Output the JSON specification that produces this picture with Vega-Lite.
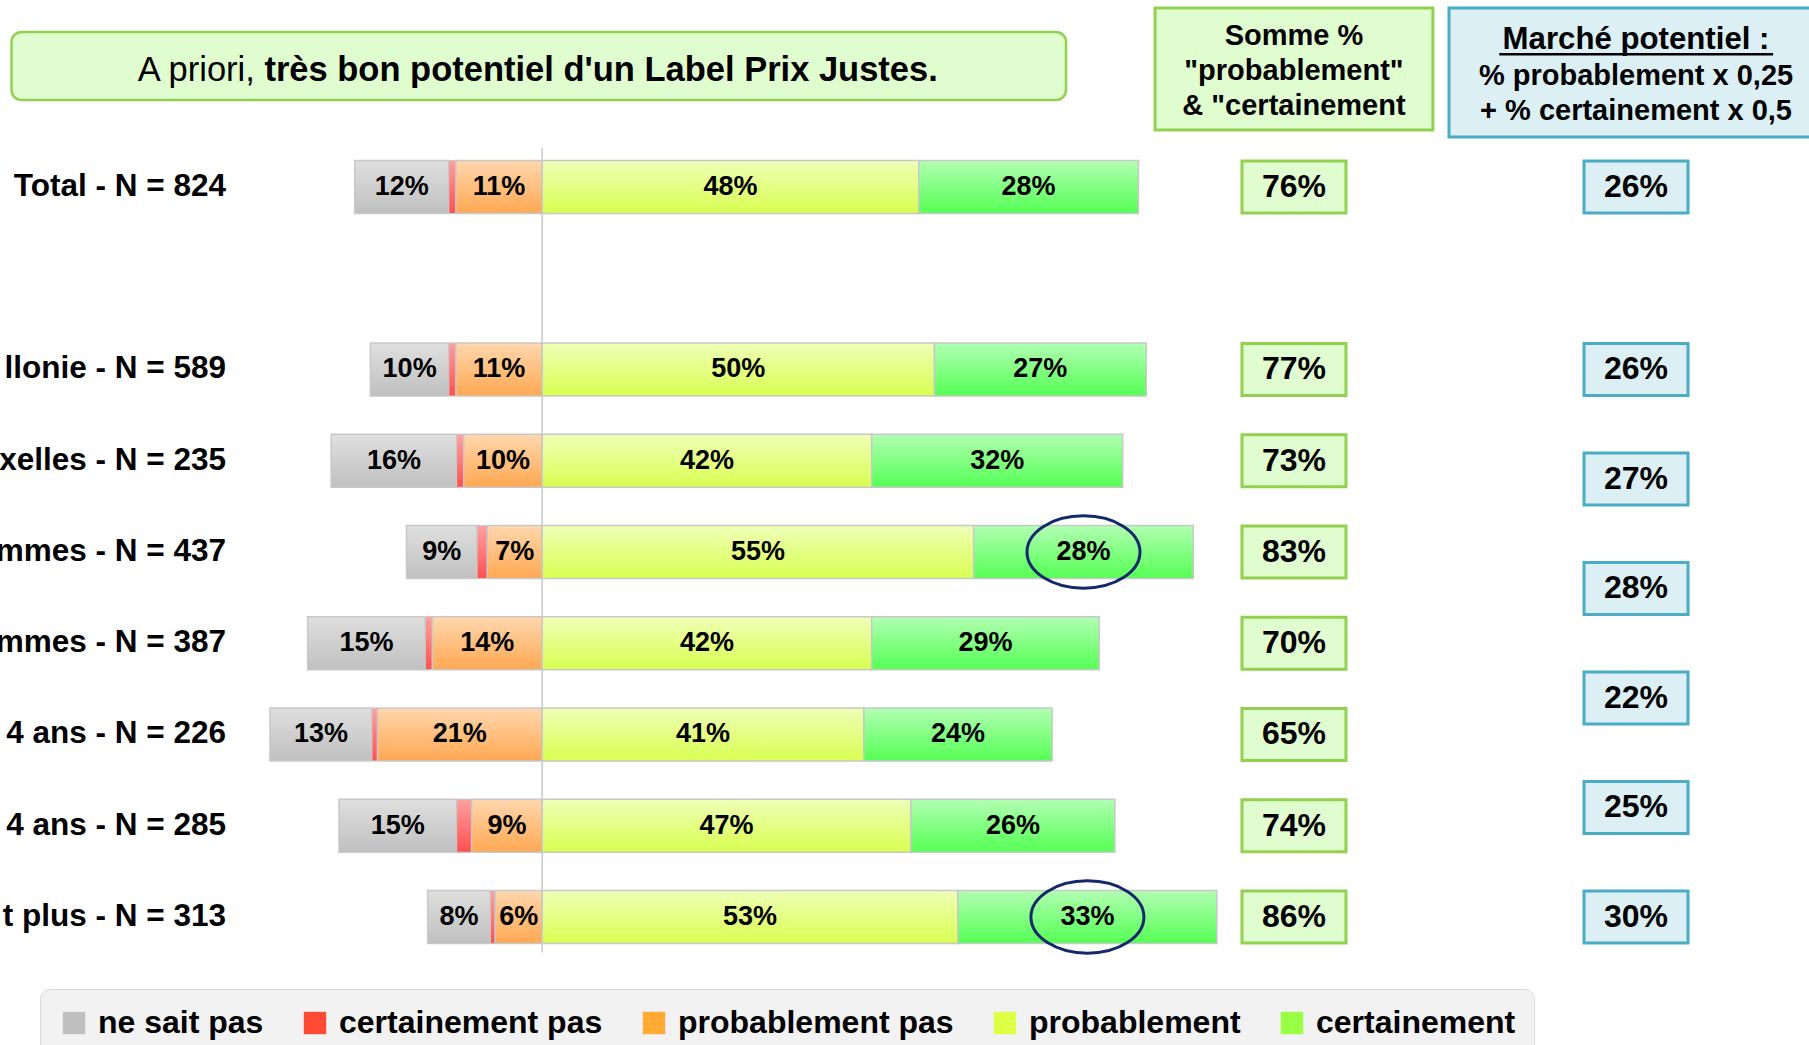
{
  "$schema": "https://vega.github.io/schema/vega-lite/v6.json",
  "width": 1809,
  "height": 1045,
  "autosize": "none",
  "padding": 0,
  "background": "white",
  "config": {"view": {"stroke": null}, "font": "Liberation Sans", "scale": {"continuousPadding": 0}},
  "datasets": {
    "seg": [
      {"row": 0, "cat": "ne sait pas", "k": 3, "pct": 12},
      {"row": 0, "cat": "certainement pas", "k": 2, "pct": 0.9},
      {"row": 0, "cat": "probablement pas", "k": 1, "pct": 11},
      {"row": 0, "cat": "probablement", "k": 4, "pct": 48},
      {"row": 0, "cat": "certainement", "k": 5, "pct": 28},
      {"row": 2, "cat": "ne sait pas", "k": 3, "pct": 10},
      {"row": 2, "cat": "certainement pas", "k": 2, "pct": 0.9},
      {"row": 2, "cat": "probablement pas", "k": 1, "pct": 11},
      {"row": 2, "cat": "probablement", "k": 4, "pct": 50},
      {"row": 2, "cat": "certainement", "k": 5, "pct": 27},
      {"row": 3, "cat": "ne sait pas", "k": 3, "pct": 16},
      {"row": 3, "cat": "certainement pas", "k": 2, "pct": 0.9},
      {"row": 3, "cat": "probablement pas", "k": 1, "pct": 10},
      {"row": 3, "cat": "probablement", "k": 4, "pct": 42},
      {"row": 3, "cat": "certainement", "k": 5, "pct": 32},
      {"row": 4, "cat": "ne sait pas", "k": 3, "pct": 9},
      {"row": 4, "cat": "certainement pas", "k": 2, "pct": 1.3},
      {"row": 4, "cat": "probablement pas", "k": 1, "pct": 7},
      {"row": 4, "cat": "probablement", "k": 4, "pct": 55},
      {"row": 4, "cat": "certainement", "k": 5, "pct": 28},
      {"row": 5, "cat": "ne sait pas", "k": 3, "pct": 15},
      {"row": 5, "cat": "certainement pas", "k": 2, "pct": 0.9},
      {"row": 5, "cat": "probablement pas", "k": 1, "pct": 14},
      {"row": 5, "cat": "probablement", "k": 4, "pct": 42},
      {"row": 5, "cat": "certainement", "k": 5, "pct": 29},
      {"row": 6, "cat": "ne sait pas", "k": 3, "pct": 13},
      {"row": 6, "cat": "certainement pas", "k": 2, "pct": 0.7},
      {"row": 6, "cat": "probablement pas", "k": 1, "pct": 21},
      {"row": 6, "cat": "probablement", "k": 4, "pct": 41},
      {"row": 6, "cat": "certainement", "k": 5, "pct": 24},
      {"row": 7, "cat": "ne sait pas", "k": 3, "pct": 15},
      {"row": 7, "cat": "certainement pas", "k": 2, "pct": 1.9},
      {"row": 7, "cat": "probablement pas", "k": 1, "pct": 9},
      {"row": 7, "cat": "probablement", "k": 4, "pct": 47},
      {"row": 7, "cat": "certainement", "k": 5, "pct": 26},
      {"row": 8, "cat": "ne sait pas", "k": 3, "pct": 8},
      {"row": 8, "cat": "certainement pas", "k": 2, "pct": 0.6},
      {"row": 8, "cat": "probablement pas", "k": 1, "pct": 6},
      {"row": 8, "cat": "probablement", "k": 4, "pct": 53},
      {"row": 8, "cat": "certainement", "k": 5, "pct": 33}
    ],
    "rows": [
      {"row": 0, "label": "Total - N = 824", "somme": 76},
      {"row": 2, "label": "llonie - N = 589", "somme": 77},
      {"row": 3, "label": "xelles - N = 235", "somme": 73},
      {"row": 4, "label": "mmes - N = 437", "somme": 83},
      {"row": 5, "label": "mmes - N = 387", "somme": 70},
      {"row": 6, "label": "4 ans - N = 226", "somme": 65},
      {"row": 7, "label": "4 ans - N = 285", "somme": 74},
      {"row": 8, "label": "t plus - N = 313", "somme": 86}
    ],
    "marche": [
      {"pos": 0, "v": 26},
      {"pos": 2, "v": 26},
      {"pos": 3.2, "v": 27},
      {"pos": 4.4, "v": 28},
      {"pos": 5.6, "v": 22},
      {"pos": 6.8, "v": 25},
      {"pos": 8, "v": 30}
    ],
    "one": [{}]
  },
  "layer": [
    {
      "data": {"name": "one"},
      "mark": {"type": "rect", "fill": "#E0FDD0", "stroke": "#92D050", "strokeWidth": 2.5, "cornerRadius": 10},
      "encoding": {
        "x": {"datum": -67.65, "type": "quantitative", "scale": {"domain": [-69.115, 161.48], "nice": false, "zero": false, "padding": 0}, "axis": null},
        "x2": {"datum": 66.77},
        "y": {"datum": -1.699, "type": "quantitative", "scale": {"domain": [-2.049, 9.403], "nice": false, "zero": false, "reverse": true, "padding": 0}, "axis": null},
        "y2": {"datum": -0.953}
      }
    },
    {
      "data": {"name": "one"},
      "mark": {"type": "text", "text": "A priori,", "align": "right", "baseline": "middle", "dx": -9.6, "fontSize": 34.5, "fontWeight": "normal", "font": "Liberation Sans", "color": "#000"},
      "encoding": {
        "x": {"datum": -35.41, "type": "quantitative", "scale": {"domain": [-69.115, 161.48], "nice": false, "zero": false, "padding": 0}, "axis": null},
        "y": {"datum": -1.272, "type": "quantitative", "scale": {"domain": [-2.049, 9.403], "nice": false, "zero": false, "reverse": true, "padding": 0}, "axis": null}
      }
    },
    {
      "data": {"name": "one"},
      "mark": {"type": "text", "text": "très bon potentiel d'un Label Prix Justes.", "align": "left", "baseline": "middle", "fontSize": 34.5, "fontWeight": "bold", "font": "Liberation Sans", "color": "#000"},
      "encoding": {
        "x": {"datum": -35.41, "type": "quantitative", "scale": {"domain": [-69.115, 161.48], "nice": false, "zero": false, "padding": 0}, "axis": null},
        "y": {"datum": -1.272, "type": "quantitative", "scale": {"domain": [-2.049, 9.403], "nice": false, "zero": false, "reverse": true, "padding": 0}, "axis": null}
      }
    },
    {
      "data": {"name": "one"},
      "mark": {"type": "rect", "fill": "#E0FDD0", "stroke": "#92D050", "strokeWidth": 3},
      "encoding": {
        "x": {"datum": 78.12, "type": "quantitative", "scale": {"domain": [-69.115, 161.48], "nice": false, "zero": false, "padding": 0}, "axis": null},
        "x2": {"datum": 113.54},
        "y": {"datum": -1.962, "type": "quantitative", "scale": {"domain": [-2.049, 9.403], "nice": false, "zero": false, "reverse": true, "padding": 0}, "axis": null},
        "y2": {"datum": -0.625}
      }
    },
    {
      "data": {"name": "one"},
      "mark": {"type": "text", "text": ["Somme %", "\"probablement\"", "& \"certainement"], "lineHeight": 34.6, "align": "center", "baseline": "middle", "fontSize": 29, "fontWeight": "bold", "font": "Liberation Sans", "color": "#000"},
      "encoding": {
        "x": {"datum": 95.83, "type": "quantitative", "scale": {"domain": [-69.115, 161.48], "nice": false, "zero": false, "padding": 0}, "axis": null},
        "y": {"datum": -1.65, "type": "quantitative", "scale": {"domain": [-2.049, 9.403], "nice": false, "zero": false, "reverse": true, "padding": 0}, "axis": null}
      }
    },
    {
      "data": {"name": "one"},
      "mark": {"type": "rect", "fill": "#DBEFF4", "stroke": "#4BACC6", "strokeWidth": 3},
      "encoding": {
        "x": {"datum": 115.59, "type": "quantitative", "scale": {"domain": [-69.115, 161.48], "nice": false, "zero": false, "padding": 0}, "axis": null},
        "x2": {"datum": 162.87},
        "y": {"datum": -1.962, "type": "quantitative", "scale": {"domain": [-2.049, 9.403], "nice": false, "zero": false, "reverse": true, "padding": 0}, "axis": null},
        "y2": {"datum": -0.548}
      }
    },
    {
      "data": {"name": "one"},
      "mark": {"type": "text", "text": "Marché potentiel :", "align": "center", "baseline": "middle", "fontSize": 31.2, "fontWeight": "bold", "font": "Liberation Sans", "color": "#000"},
      "encoding": {
        "x": {"datum": 139.43, "type": "quantitative", "scale": {"domain": [-69.115, 161.48], "nice": false, "zero": false, "padding": 0}, "axis": null},
        "y": {"datum": -1.61, "type": "quantitative", "scale": {"domain": [-2.049, 9.403], "nice": false, "zero": false, "reverse": true, "padding": 0}, "axis": null}
      }
    },
    {
      "data": {"name": "one"},
      "mark": {"type": "rule", "color": "#000", "strokeWidth": 2.5},
      "encoding": {
        "x": {"datum": 122.0, "type": "quantitative", "scale": {"domain": [-69.115, 161.48], "nice": false, "zero": false, "padding": 0}, "axis": null},
        "x2": {"datum": 156.9},
        "y": {"datum": -1.455, "type": "quantitative", "scale": {"domain": [-2.049, 9.403], "nice": false, "zero": false, "reverse": true, "padding": 0}, "axis": null}
      }
    },
    {
      "data": {"name": "one"},
      "mark": {"type": "text", "text": ["% probablement x 0,25", "+ % certainement x 0,5"], "lineHeight": 35.8, "align": "center", "baseline": "middle", "fontSize": 29, "fontWeight": "bold", "font": "Liberation Sans", "color": "#000"},
      "encoding": {
        "x": {"datum": 139.43, "type": "quantitative", "scale": {"domain": [-69.115, 161.48], "nice": false, "zero": false, "padding": 0}, "axis": null},
        "y": {"datum": -1.22, "type": "quantitative", "scale": {"domain": [-2.049, 9.403], "nice": false, "zero": false, "reverse": true, "padding": 0}, "axis": null}
      }
    },
    {
      "data": {"name": "one"},
      "mark": {"type": "rule", "color": "#C8C8C8", "strokeWidth": 1.5},
      "encoding": {
        "x": {"datum": 0, "type": "quantitative", "scale": {"domain": [-69.115, 161.48], "nice": false, "zero": false, "padding": 0}, "axis": null},
        "y": {"datum": -0.43, "type": "quantitative", "scale": {"domain": [-2.049, 9.403], "nice": false, "zero": false, "reverse": true, "padding": 0}, "axis": null},
        "y2": {"datum": 8.39}
      }
    },
    {
      "data": {"name": "seg"},
      "transform": [
        {"calculate": "datum.k <= 3 ? -datum.pct : datum.pct", "as": "sv"},
        {"stack": "sv", "groupby": ["row"], "sort": [{"field": "k", "order": "ascending"}], "as": ["x0", "x1"]},
        {"calculate": "(datum.x0 + datum.x1) / 2", "as": "xm"},
        {"calculate": "format(datum.pct, '.0f') + '%'", "as": "lbl"}
      ],
      "layer": [
        {
          "mark": {"type": "bar", "orient": "horizontal", "size": 53},
          "encoding": {
            "x": {"field": "x0", "type": "quantitative", "scale": {"domain": [-69.115, 161.48], "nice": false, "zero": false, "padding": 0}, "axis": null},
            "x2": {"field": "x1"},
            "y": {"field": "row", "type": "quantitative", "scale": {"domain": [-2.049, 9.403], "nice": false, "zero": false, "reverse": true, "padding": 0}, "axis": null},
            "color": {
              "field": "cat", "type": "nominal",
              "scale": {"domain": ["ne sait pas", "certainement pas", "probablement pas", "probablement", "certainement"], "range": ["#C0C0C0", "#FF4B33", "#FFAA33", "#DDFF44", "#99FF44"]},
              "legend": {"title": null, "orient": "none", "legendX": 40, "legendY": 989, "direction": "horizontal", "fillColor": "#F2F2F2", "strokeColor": "#D9D9D9", "cornerRadius": 10, "padding": 18, "symbolType": "square", "symbolSize": 500, "symbolStrokeWidth": 0, "symbolOpacity": 1, "labelFont": "Liberation Sans", "labelFontSize": 32, "labelFontWeight": "bold", "labelColor": "#000", "labelLimit": 500, "labelOffset": 8, "columnPadding": 35}
            }
          }
        },
        {
          "transform": [{"filter": "datum.k === 3"}],
          "mark": {"type": "bar", "orient": "horizontal", "size": 53, "stroke": "#C8C8C8", "strokeWidth": 1.5, "fill": {"gradient": "linear", "x1": 0, "y1": 0, "x2": 0, "y2": 1, "stops": [{"offset": 0, "color": "#DFDFDF"}, {"offset": 1, "color": "#C0C0C0"}]}},
          "encoding": {
            "x": {"field": "x0", "type": "quantitative", "scale": {"domain": [-69.115, 161.48], "nice": false, "zero": false, "padding": 0}, "axis": null},
            "x2": {"field": "x1"},
            "y": {"field": "row", "type": "quantitative", "scale": {"domain": [-2.049, 9.403], "nice": false, "zero": false, "reverse": true, "padding": 0}, "axis": null}
          }
        },
        {
          "transform": [{"filter": "datum.k === 2"}],
          "mark": {"type": "bar", "orient": "horizontal", "size": 53, "stroke": "#C8C8C8", "strokeWidth": 1, "fill": {"gradient": "linear", "x1": 0, "y1": 0, "x2": 0, "y2": 1, "stops": [{"offset": 0, "color": "#FFA0A0"}, {"offset": 1, "color": "#FF5050"}]}},
          "encoding": {
            "x": {"field": "x0", "type": "quantitative", "scale": {"domain": [-69.115, 161.48], "nice": false, "zero": false, "padding": 0}, "axis": null},
            "x2": {"field": "x1"},
            "y": {"field": "row", "type": "quantitative", "scale": {"domain": [-2.049, 9.403], "nice": false, "zero": false, "reverse": true, "padding": 0}, "axis": null}
          }
        },
        {
          "transform": [{"filter": "datum.k === 1"}],
          "mark": {"type": "bar", "orient": "horizontal", "size": 53, "stroke": "#C8C8C8", "strokeWidth": 1.5, "fill": {"gradient": "linear", "x1": 0, "y1": 0, "x2": 0, "y2": 1, "stops": [{"offset": 0, "color": "#FFD7AE"}, {"offset": 1, "color": "#FFA852"}]}},
          "encoding": {
            "x": {"field": "x0", "type": "quantitative", "scale": {"domain": [-69.115, 161.48], "nice": false, "zero": false, "padding": 0}, "axis": null},
            "x2": {"field": "x1"},
            "y": {"field": "row", "type": "quantitative", "scale": {"domain": [-2.049, 9.403], "nice": false, "zero": false, "reverse": true, "padding": 0}, "axis": null}
          }
        },
        {
          "transform": [{"filter": "datum.k === 4"}],
          "mark": {"type": "bar", "orient": "horizontal", "size": 53, "stroke": "#C8C8C8", "strokeWidth": 1.5, "fill": {"gradient": "linear", "x1": 0, "y1": 0, "x2": 0, "y2": 1, "stops": [{"offset": 0, "color": "#EFFFB8"}, {"offset": 1, "color": "#D8FF50"}]}},
          "encoding": {
            "x": {"field": "x0", "type": "quantitative", "scale": {"domain": [-69.115, 161.48], "nice": false, "zero": false, "padding": 0}, "axis": null},
            "x2": {"field": "x1"},
            "y": {"field": "row", "type": "quantitative", "scale": {"domain": [-2.049, 9.403], "nice": false, "zero": false, "reverse": true, "padding": 0}, "axis": null}
          }
        },
        {
          "transform": [{"filter": "datum.k === 5"}],
          "mark": {"type": "bar", "orient": "horizontal", "size": 53, "stroke": "#C8C8C8", "strokeWidth": 1.5, "fill": {"gradient": "linear", "x1": 0, "y1": 0, "x2": 0, "y2": 1, "stops": [{"offset": 0, "color": "#B2FFB2"}, {"offset": 1, "color": "#55FF55"}]}},
          "encoding": {
            "x": {"field": "x0", "type": "quantitative", "scale": {"domain": [-69.115, 161.48], "nice": false, "zero": false, "padding": 0}, "axis": null},
            "x2": {"field": "x1"},
            "y": {"field": "row", "type": "quantitative", "scale": {"domain": [-2.049, 9.403], "nice": false, "zero": false, "reverse": true, "padding": 0}, "axis": null}
          }
        },
        {
          "transform": [{"filter": "datum.k !== 2"}],
          "mark": {"type": "text", "align": "center", "baseline": "middle", "fontSize": 27, "fontWeight": "bold", "font": "Liberation Sans", "color": "#000"},
          "encoding": {
            "x": {"field": "xm", "type": "quantitative", "scale": {"domain": [-69.115, 161.48], "nice": false, "zero": false, "padding": 0}, "axis": null},
            "y": {"field": "row", "type": "quantitative", "scale": {"domain": [-2.049, 9.403], "nice": false, "zero": false, "reverse": true, "padding": 0}, "axis": null},
            "text": {"field": "lbl"}
          }
        },
        {
          "transform": [{"filter": "datum.k === 5 && (datum.row === 4 || datum.row === 8)"}],
          "mark": {"type": "point", "shape": "M-1,0A1,0.64,0,1,1,1,0A1,0.64,0,1,1,-1,0Z", "size": 12769, "filled": false, "stroke": "#13296B", "strokeWidth": 3, "opacity": 1},
          "encoding": {
            "x": {"field": "xm", "type": "quantitative", "scale": {"domain": [-69.115, 161.48], "nice": false, "zero": false, "padding": 0}, "axis": null},
            "y": {"field": "row", "type": "quantitative", "scale": {"domain": [-2.049, 9.403], "nice": false, "zero": false, "reverse": true, "padding": 0}, "axis": null}
          }
        }
      ]
    },
    {
      "data": {"name": "rows"},
      "mark": {"type": "text", "align": "right", "baseline": "middle", "fontSize": 31.5, "fontWeight": "bold", "font": "Liberation Sans", "color": "#000"},
      "encoding": {
        "x": {"datum": -40.31, "type": "quantitative", "scale": {"domain": [-69.115, 161.48], "nice": false, "zero": false, "padding": 0}, "axis": null},
        "y": {"field": "row", "type": "quantitative", "scale": {"domain": [-2.049, 9.403], "nice": false, "zero": false, "reverse": true, "padding": 0}, "axis": null},
        "text": {"field": "label"}
      }
    },
    {
      "data": {"name": "rows"},
      "transform": [{"calculate": "datum.somme + '%'", "as": "lbl"}],
      "layer": [
        {
          "mark": {"type": "point", "shape": "M-1,-0.5L1,-0.5L1,0.5L-1,0.5Z", "size": 10816, "filled": true, "fill": "#E0FDD0", "stroke": "#92D050", "strokeWidth": 3, "opacity": 1},
          "encoding": {
            "x": {"datum": 95.83, "type": "quantitative", "scale": {"domain": [-69.115, 161.48], "nice": false, "zero": false, "padding": 0}, "axis": null},
            "y": {"field": "row", "type": "quantitative", "scale": {"domain": [-2.049, 9.403], "nice": false, "zero": false, "reverse": true, "padding": 0}, "axis": null}
          }
        },
        {
          "mark": {"type": "text", "align": "center", "baseline": "middle", "fontSize": 32, "fontWeight": "bold", "font": "Liberation Sans", "color": "#000"},
          "encoding": {
            "x": {"datum": 95.83, "type": "quantitative", "scale": {"domain": [-69.115, 161.48], "nice": false, "zero": false, "padding": 0}, "axis": null},
            "y": {"field": "row", "type": "quantitative", "scale": {"domain": [-2.049, 9.403], "nice": false, "zero": false, "reverse": true, "padding": 0}, "axis": null},
            "text": {"field": "lbl"}
          }
        }
      ]
    },
    {
      "data": {"name": "marche"},
      "transform": [{"calculate": "datum.v + '%'", "as": "lbl"}],
      "layer": [
        {
          "mark": {"type": "point", "shape": "M-1,-0.5L1,-0.5L1,0.5L-1,0.5Z", "size": 10816, "filled": true, "fill": "#DBEFF4", "stroke": "#4BACC6", "strokeWidth": 3, "opacity": 1},
          "encoding": {
            "x": {"datum": 139.43, "type": "quantitative", "scale": {"domain": [-69.115, 161.48], "nice": false, "zero": false, "padding": 0}, "axis": null},
            "y": {"field": "pos", "type": "quantitative", "scale": {"domain": [-2.049, 9.403], "nice": false, "zero": false, "reverse": true, "padding": 0}, "axis": null}
          }
        },
        {
          "mark": {"type": "text", "align": "center", "baseline": "middle", "fontSize": 32, "fontWeight": "bold", "font": "Liberation Sans", "color": "#000"},
          "encoding": {
            "x": {"datum": 139.43, "type": "quantitative", "scale": {"domain": [-69.115, 161.48], "nice": false, "zero": false, "padding": 0}, "axis": null},
            "y": {"field": "pos", "type": "quantitative", "scale": {"domain": [-2.049, 9.403], "nice": false, "zero": false, "reverse": true, "padding": 0}, "axis": null},
            "text": {"field": "lbl"}
          }
        }
      ]
    }
  ]
}
